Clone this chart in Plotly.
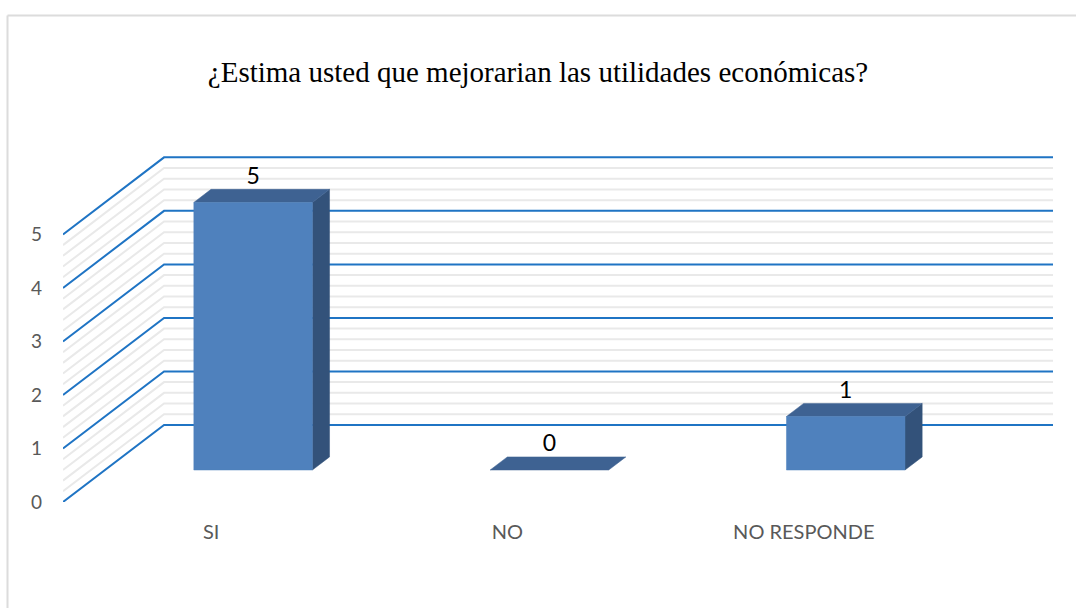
import numpy as np
import plotly.graph_objects as go

# Survey answers
categories = ["SI", "NO", "NO RESPONDE"]
counts = [5, 0, 1]
value_ticks = [0, 1, 2, 3, 4, 5]
title_text = "¿Estima usted que mejorarian las utilidades económicas?"

# Oblique projection of the 3-D box: x in category units, y in value units.
DX = 0.341          # horizontal shift from front plane to back wall
DY = 1.44           # vertical shift from front plane to back wall
D0, D1 = 0.415, 0.585   # depth span of each bar inside the box
HW = 0.20           # half width of a bar
N = len(categories)
VMAX = max(value_ticks)
PAD = 0.1           # headroom so the top wall line is not clipped

BLUE = "#1f74c4"
MINOR = "#e9e9e9"
FRONT = "#4f81bd"
TOP = "#3e6292"
SIDE = "#33527a"


def proj(x, v, d):
    return x + d * DX, v + d * DY


fig = go.Figure()


def wall_line(v, color, width):
    pts = [proj(0, v, 0), proj(0, v, 1), proj(N, v, 1)]
    fig.add_trace(go.Scatter(
        x=[p[0] for p in pts], y=[p[1] for p in pts], mode="lines",
        line=dict(color=color, width=width), hoverinfo="skip", showlegend=False))


# minor gridlines on side wall and back wall
for v in np.arange(0.2, VMAX, 0.2):
    if abs(v - round(v)) > 1e-6:
        wall_line(v, MINOR, 2)
# major gridlines
for v in value_ticks:
    wall_line(v, BLUE, 2)


def poly(pts, color):
    xs = [p[0] for p in pts] + [pts[0][0]]
    ys = [p[1] for p in pts] + [pts[0][1]]
    fig.add_trace(go.Scatter(
        x=xs, y=ys, mode="lines", fill="toself", fillcolor=color,
        line=dict(color=color, width=0.5), hoverinfo="skip", showlegend=False))


for i, v in enumerate(counts):
    c = i + 0.5
    l, r = c - HW, c + HW
    if v > 0:
        poly([proj(r, 0, D0), proj(r, 0, D1), proj(r, v, D1), proj(r, v, D0)], SIDE)
    poly([proj(l, v, D0), proj(r, v, D0), proj(r, v, D1), proj(l, v, D1)], TOP)
    if v > 0:
        poly([proj(l, 0, D0), proj(r, 0, D0), proj(r, v, D0), proj(l, v, D0)], FRONT)

# value labels above each bar
fig.add_trace(go.Scatter(
    x=[proj(i + 0.5, v, D0)[0] for i, v in enumerate(counts)],
    y=[proj(0, v, D1)[1] for v in counts],
    mode="text", text=[str(v) for v in counts], textposition="top center",
    textfont=dict(family="Lato", size=23, color="#000000"),
    hoverinfo="skip", showlegend=False))

fig.update_layout(
    width=1076, height=608,
    margin=dict(l=63, r=23, t=152, b=106),
    paper_bgcolor="white", plot_bgcolor="rgba(0,0,0,0)",
    title=dict(text=title_text, x=0.5, xref="container", xanchor="center",
               y=1 - 72 / 608, yref="container", yanchor="middle",
               font=dict(family="Liberation Serif", size=29, color="#000000")),
    xaxis=dict(range=[0, N + DX], tickvals=[i + 0.5 for i in range(N)], ticktext=categories,
               showgrid=False, zeroline=False, showline=False, ticks="",
               ticklabelstandoff=16,
               tickfont=dict(family="Lato", size=20, color="#595959"), fixedrange=True),
    yaxis=dict(range=[0, VMAX + DY + PAD], tickvals=value_ticks,
               showgrid=False, zeroline=False, showline=False, ticks="",
               ticklabelstandoff=20,
               tickfont=dict(family="Lato", size=19, color="#595959"), fixedrange=True),
    shapes=[
        dict(type="line", xref="paper", yref="paper",
             x0=(7.5 - 63) / 990, x1=(7.5 - 63) / 990, y0=(502 - 15.5) / 350, y1=-0.4,
             line=dict(color="#dcdcdc", width=2)),
        dict(type="line", xref="paper", yref="paper",
             x0=(7.5 - 63) / 990, x1=1.1, y0=(502 - 15.5) / 350, y1=(502 - 15.5) / 350,
             line=dict(color="#dcdcdc", width=2)),
    ],
)

fig.write_html("out.html")
